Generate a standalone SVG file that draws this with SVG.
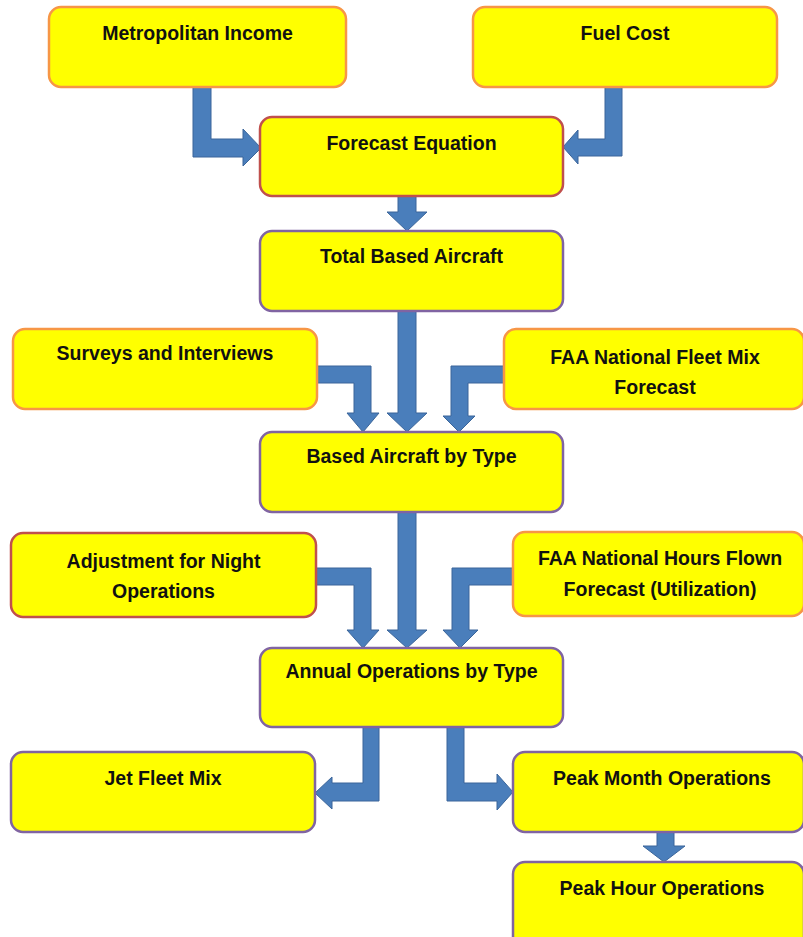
<svg xmlns="http://www.w3.org/2000/svg" width="803" height="937" viewBox="0 0 803 937">
<style>
.box{fill:#FFFF00;stroke-width:2.5}
.o{stroke:#F79646}
.r{stroke:#C0504D}
.p{stroke:#8064A2}
.t{font-family:"Liberation Sans",Arial,sans-serif;font-weight:bold;font-size:19.5px;fill:#111;text-anchor:middle}
.arr{fill:#4A7EBB;stroke:#3A659A;stroke-width:1}
</style>
<rect width="803" height="937" fill="#ffffff"/>
<g id="connectors">
<path class="arr" d="M193,87 L211,87 L211,139 L243,139 L243,129 L261,148 L243,166 L243,157 L193,157 Z"/>
<path class="arr" d="M605,87 L622,87 L622,156 L578,156 L578,164 L563,147 L578,130 L578,139 L605,139 Z"/>
<path class="arr" d="M398,196 L416,196 L416,212 L427,212 L407,231 L387,212 L398,212 Z"/>
<path class="arr" d="M398,311 L416,311 L416,413 L427,413 L407,432 L387,413 L398,413 Z"/>
<path class="arr" d="M317,366 L371,366 L371,413 L379,413 L363,432 L347,413 L354,413 L354,383 L317,383 Z"/>
<path class="arr" d="M504,366 L451,366 L451,416 L443,416 L459,432 L475,416 L468,416 L468,383 L504,383 Z"/>
<path class="arr" d="M398,512 L416,512 L416,630 L427,630 L407,648 L387,630 L398,630 Z"/>
<path class="arr" d="M316,568 L371,568 L371,630 L379,630 L363,648 L347,630 L354,630 L354,585 L316,585 Z"/>
<path class="arr" d="M513,568 L452,568 L452,630 L443,630 L460,648 L478,630 L469,630 L469,585 L513,585 Z"/>
<path class="arr" d="M363,727 L379,727 L379,801 L332,801 L332,809 L315,793 L332,777 L332,783 L363,783 Z"/>
<path class="arr" d="M447,727 L464,727 L464,783 L497,783 L497,774 L513,792 L497,810 L497,801 L447,801 Z"/>
<path class="arr" d="M657,832 L674,832 L674,846 L685,846 L664,862 L643,846 L657,846 Z"/>
</g>
<g id="metropolitan-income"><rect class="box o" x="49" y="7" width="297" height="80" rx="12"/><text class="t" x="197.5" y="40">Metropolitan Income</text></g>
<g id="fuel-cost"><rect class="box o" x="473" y="7" width="304" height="80" rx="12"/><text class="t" x="625" y="40">Fuel Cost</text></g>
<g id="forecast-equation"><rect class="box r" x="260" y="117" width="303" height="79" rx="12"/><text class="t" x="411.5" y="150">Forecast Equation</text></g>
<g id="total-based-aircraft"><rect class="box p" x="260" y="231" width="303" height="80" rx="12"/><text class="t" x="411.5" y="263">Total Based Aircraft</text></g>
<g id="surveys-interviews"><rect class="box o" x="13" y="329" width="304" height="80" rx="12"/><text class="t" x="165" y="360">Surveys and Interviews</text></g>
<g id="faa-fleet-mix"><rect class="box o" x="504" y="329" width="300" height="80" rx="12"/><text class="t" x="655" y="364">FAA National Fleet Mix</text><text class="t" x="655" y="394">Forecast</text></g>
<g id="based-aircraft-by-type"><rect class="box p" x="260" y="432" width="303" height="80" rx="12"/><text class="t" x="411.5" y="463">Based Aircraft by Type</text></g>
<g id="night-adjustment"><rect class="box r" x="11" y="533" width="305" height="84" rx="12"/><text class="t" x="163.5" y="568">Adjustment for Night</text><text class="t" x="163.5" y="598">Operations</text></g>
<g id="faa-hours-flown"><rect class="box o" x="513" y="532" width="291" height="84" rx="12"/><text class="t" x="660" y="565">FAA National Hours Flown</text><text class="t" x="660" y="596">Forecast (Utilization)</text></g>
<g id="annual-operations"><rect class="box p" x="260" y="648" width="303" height="79" rx="12"/><text class="t" x="411.5" y="678">Annual Operations by Type</text></g>
<g id="jet-fleet-mix"><rect class="box p" x="11" y="752" width="304" height="80" rx="12"/><text class="t" x="163" y="785">Jet Fleet Mix</text></g>
<g id="peak-month"><rect class="box p" x="513" y="752" width="291" height="80" rx="12"/><text class="t" x="662" y="785">Peak Month Operations</text></g>
<g id="peak-hour"><rect class="box p" x="513" y="862" width="291" height="90" rx="12"/><text class="t" x="662" y="895">Peak Hour Operations</text></g>
</svg>
